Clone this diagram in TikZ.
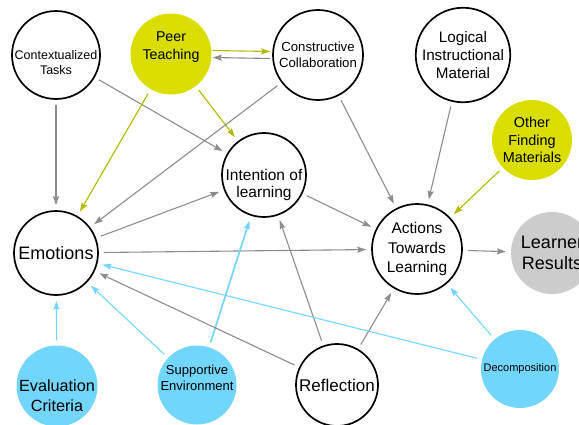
\documentclass[tikz,border=0pt]{standalone}
\usepackage{fontspec}
\setmainfont{Liberation Sans}
\usetikzlibrary{arrows.meta}

\definecolor{peeryellow}{HTML}{D9DD00}
\definecolor{peerline}{HTML}{B2B800}
\definecolor{supportblue}{HTML}{72D6FC}
\definecolor{linkgrey}{HTML}{8C8C8C}
\definecolor{resultgrey}{HTML}{CCCCCC}

\begin{document}
\begin{tikzpicture}[x=1pt,y=-1pt,>={Stealth[length=9pt,width=6pt,inset=1.5pt]}]
  \tikzstyle{concept}=[circle,draw=black,line width=1.7pt,fill=white,inner sep=0pt,align=center]
  \tikzstyle{peer}=[circle,fill=peeryellow,inner sep=0pt,align=center]
  \tikzstyle{support}=[circle,fill=supportblue,inner sep=0pt,align=center]
  \tikzstyle{result}=[circle,fill=resultgrey,inner sep=0pt,align=center]
  \tikzstyle{link}=[->,draw=linkgrey,line width=1.1pt,shorten >=5pt,shorten <=5pt]
  \tikzstyle{peerlink}=[link,draw=peerline]
  \tikzstyle{supportlink}=[link,draw=supportblue]

  \useasboundingbox (0,0) rectangle (579,424);

  % top row
  \node [concept,minimum size=88pt,label={[font=\fontsize{12.5}{15}\selectfont,align=center,yshift=-8pt]center:Contextualized\\Tasks}] (tasks) at (56,55) {};
  \node [peer,minimum size=81pt,label={[font=\fontsize{14.2}{17.7}\selectfont,align=center,yshift=7pt]center:Peer\\Teaching}] (peer) at (171,54) {};
  \node [concept,minimum size=90pt,font=\fontsize{13.2}{15.7}\selectfont] (collab) at (318,55) {Constructive\\Collaboration};
  \node [concept,minimum size=90pt,font=\fontsize{15.2}{18}\selectfont] (material) at (463,55) {Logical\\Instructional\\Material};
  \node [peer,minimum size=80pt,font=\fontsize{14.4}{17.5}\selectfont] (finding) at (532,140) {Other\\Finding\\Materials};

  % middle
  \node [concept,minimum size=84pt,label={[font=\fontsize{15.5}{17.7}\selectfont,align=center,yshift=-10pt]center:Intention of\\learning}] (intention) at (264,175) {};
  \node [concept,minimum size=84pt,font=\fontsize{18}{21}\selectfont] (emotions) at (56,253) {Emotions};
  \node [concept,minimum size=90pt,font=\fontsize{15.5}{19.5}\selectfont] (actions) at (417,249) {Actions\\Towards\\Learning};
  \node [result,minimum size=82pt,font=\fontsize{18}{21}\selectfont] (results) at (552,253) {Learner\\Results};

  % bottom row
  \node [support,minimum size=81pt,label={[font=\fontsize{16.2}{20}\selectfont,align=center,yshift=-10pt]center:Evaluation\\Criteria}] (criteria) at (57,386) {};
  \node [support,minimum size=79pt,label={[font=\fontsize{13}{15.7}\selectfont,align=center,yshift=7pt]center:Supportive\\Environment}] (environment) at (197,385) {};
  \node [concept,minimum size=82pt,font=\fontsize{17}{20}\selectfont] (reflection) at (337,385) {Reflection};
  \node [support,minimum size=78pt,font=\fontsize{11}{13}\selectfont] (decomposition) at (520,369) {Decomposition};

  \draw [peerlink,shorten >=2pt,shorten <=1pt] ([yshift=3.5pt]peer.east) -- ([yshift=3.5pt]collab.west);
  \draw [link,shorten >=1pt,shorten <=2pt] ([yshift=-3.5pt]collab.west) -- ([yshift=-3.5pt]peer.east);
  \draw [link] (tasks) -- (emotions);
  \draw [link] (tasks) -- (intention);
  \draw [peerlink] (peer) -- (emotions);
  \draw [peerlink] (peer) -- (intention);
  \draw [link] (collab) -- (emotions);
  \draw [link] (collab) -- (actions);
  \draw [link] (material) -- (actions);
  \draw [peerlink] (finding) -- (actions);
  \draw [link] (emotions) -- (intention);
  \draw [link] (intention) -- (actions);
  \draw [link] (emotions) -- (actions);
  \draw [link] (actions) -- (results);
  \draw [supportlink] (criteria) -- (emotions);
  \draw [supportlink] (environment) -- (emotions);
  \draw [supportlink,line width=1.7pt] (environment) -- (intention);
  \draw [link] (reflection) -- (emotions);
  \draw [link] (reflection) -- (intention);
  \draw [link] (reflection) -- (actions);
  \draw [supportlink] (decomposition) -- (emotions);
  \draw [supportlink] (decomposition) -- (actions);
\end{tikzpicture}
\end{document}
